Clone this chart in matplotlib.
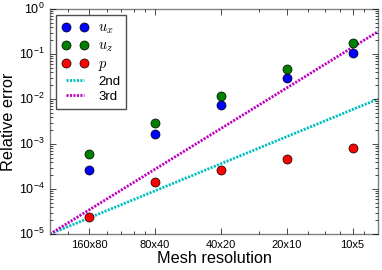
import matplotlib
matplotlib.use("Agg")
import matplotlib.pyplot as plt
import numpy as np

plt.style.use("classic")
plt.rcParams["font.family"] = ["Liberation Sans", "DejaVu Sans"]
plt.rcParams["mathtext.fontset"] = "cm"

# Data
resolutions = ["160x80", "80x40", "40x20", "20x10", "10x5"]
h = [0.5, 1, 2, 4, 8]
err_ux = [2.6e-4, 1.66e-3, 7.2e-3, 2.9e-2, 0.107]
err_uz = [6.0e-4, 2.9e-3, 1.15e-2, 4.6e-2, 0.173]
err_p = [2.35e-5, 1.43e-4, 2.7e-4, 4.6e-4, 8.3e-4]
xlim = (10 ** -0.48, 10 ** 1.02)
ref_start = 1e-5

fig = plt.figure(figsize=(3.82, 2.70), dpi=100, facecolor="white")
ax = fig.add_axes([0.131, 0.1333, 0.859, 0.8334])

ax.plot(h, err_ux, "o", color="b", markersize=6.5, markeredgewidth=0.5,
        label=r"$u_x$", zorder=3)
ax.plot(h, err_uz, "o", color="g", markersize=6.5, markeredgewidth=0.5,
        label=r"$u_z$", zorder=3)
ax.plot(h, err_p, "o", color="r", markersize=6.5, markeredgewidth=0.5,
        label=r"$p$", zorder=3)

xr = np.array(xlim)
ax.plot(xr, ref_start * (xr / xr[0]) ** 2, color="c", lw=2, dashes=(1.5, 1),
        label="2nd", zorder=2)
ax.plot(xr, ref_start * (xr / xr[0]) ** 3, color="m", lw=2, dashes=(1.5, 1),
        label="3rd", zorder=2)

ax.set_xscale("log")
ax.set_yscale("log")
ax.set_xlim(*xlim)
ax.set_ylim(1e-5, 1)
ax.set_xticks(h)
ax.set_xticklabels(resolutions)
ax.tick_params(axis="x", labelsize=8)
ax.tick_params(axis="y", labelsize=9)
ax.set_xlabel("Mesh resolution", fontsize=11.7, labelpad=1)
ax.set_ylabel("Relative error", fontsize=11.7, labelpad=2)
for s in ax.spines.values():
    s.set_color("0.5")

leg = ax.legend(loc="upper left", numpoints=2, fontsize=9.5, handlelength=2,
                handletextpad=0.75, borderaxespad=0.45, labelspacing=0.2,
                borderpad=0.45)
for t in leg.get_texts()[:3]:
    t.set_fontsize(10.5)
leg.get_frame().set_edgecolor("0.3")

fig.savefig("out.png", dpi=100, facecolor="white")
